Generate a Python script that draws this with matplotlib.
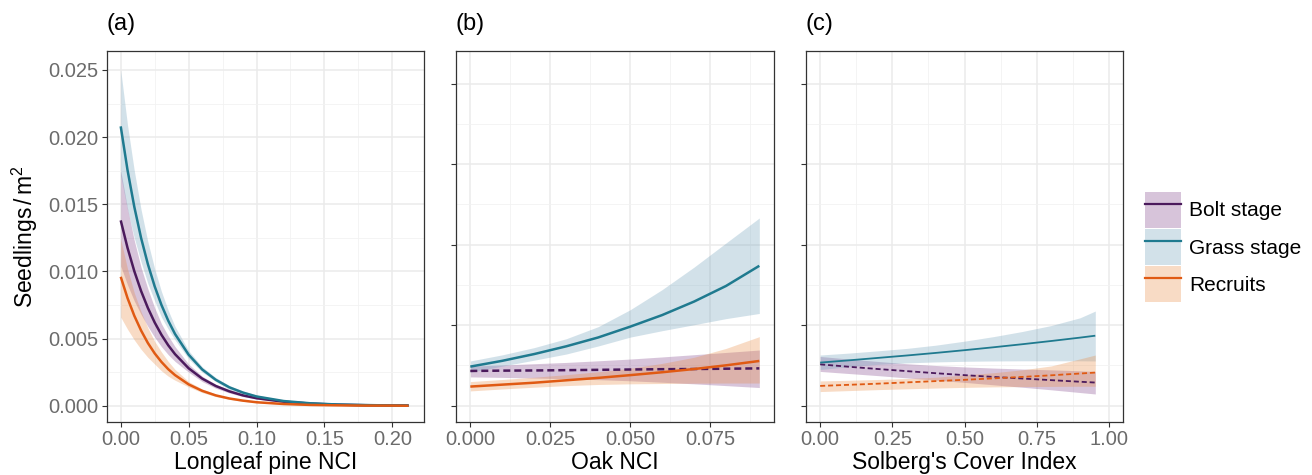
import numpy as np
import matplotlib
matplotlib.use("Agg")
import matplotlib.pyplot as plt
from matplotlib.patches import Patch
from matplotlib.lines import Line2D
from matplotlib.ticker import MultipleLocator, NullFormatter

plt.rcParams['font.family'] = ['Liberation Sans', 'DejaVu Sans']
plt.rcParams['mathtext.fontset'] = 'custom'
plt.rcParams['mathtext.rm'] = 'Liberation Sans'
plt.rcParams['mathtext.it'] = 'Liberation Sans:italic'

# ---- data: panel (a) Longleaf pine NCI ----
nci_pine = [0, 0.005, 0.01, 0.015, 0.02, 0.025, 0.03, 0.035, 0.04, 0.05, 0.06,
            0.07, 0.08, 0.09, 0.10, 0.12, 0.14, 0.16, 0.18, 0.20, 0.212]
pine_grass = [0.0208, 0.01755, 0.01481, 0.01249, 0.01054, 0.00889, 0.0075, 0.00633, 0.00534, 0.0038, 0.0027,
              0.00193, 0.00137, 0.00098, 0.00069, 0.00035, 0.00018, 0.00009, 0.00005, 0.00002, 0.00002]
pine_grass_hi = [0.0250, 0.0209, 0.0175, 0.0146, 0.0122, 0.0102, 0.0085, 0.0071, 0.0059, 0.0041, 0.0029,
                 0.0021, 0.0015, 0.0011, 0.0008, 0.0004, 0.0002, 0.00011, 0.00006, 0.00003, 0.00003]
pine_grass_lo = [0.0171, 0.0146, 0.0125, 0.0107, 0.0091, 0.0078, 0.0066, 0.0057, 0.0049, 0.0035, 0.0025,
                 0.0018, 0.0012, 0.00086, 0.0006, 0.0003, 0.00015, 0.00007, 0.00004, 0.00002, 0.00001]
pine_bolt = [0.0138, 0.01176, 0.01002, 0.00854, 0.00728, 0.0062, 0.00528, 0.0045, 0.00384, 0.00279, 0.00202,
             0.00147, 0.00107, 0.00077, 0.00056, 0.0003, 0.00016, 0.00008, 0.00004, 0.00002, 0.00002]
pine_bolt_hi = [0.0175, 0.0147, 0.0123, 0.0103, 0.0087, 0.0073, 0.0061, 0.0052, 0.0044, 0.0031, 0.0022,
                0.0016, 0.0012, 0.00085, 0.00062, 0.00034, 0.00018, 0.00009, 0.00005, 0.00003, 0.00002]
pine_bolt_lo = [0.0104, 0.0090, 0.0078, 0.0068, 0.0059, 0.0051, 0.0044, 0.0038, 0.0033, 0.0025, 0.0018,
                0.0013, 0.00095, 0.00068, 0.0005, 0.00026, 0.00013, 0.00007, 0.00003, 0.00002, 0.00001]
pine_recr = [0.0096, 0.00802, 0.0067, 0.0056, 0.00467, 0.0039, 0.00326, 0.00272, 0.00228, 0.00159, 0.00111,
             0.00077, 0.00054, 0.00038, 0.00026, 0.00013, 0.00006, 0.00003, 0.00001, 0.00001, 0.0]
pine_recr_hi = [0.0124, 0.0102, 0.0084, 0.0070, 0.0058, 0.0048, 0.0040, 0.0033, 0.0027, 0.0018, 0.00125,
                0.00087, 0.0006, 0.00043, 0.0003, 0.00015, 0.00007, 0.00004, 0.00002, 0.00001, 0.00001]
pine_recr_lo = [0.0066, 0.0057, 0.0049, 0.0042, 0.0036, 0.0031, 0.0026, 0.0022, 0.0019, 0.0014, 0.00098,
                0.00068, 0.00047, 0.00033, 0.00023, 0.00011, 0.00005, 0.00002, 0.00001, 0.0, 0.0]

# ---- data: panel (b) Oak NCI ----
nci_oak = [0, 0.01, 0.02, 0.03, 0.04, 0.05, 0.06, 0.07, 0.08, 0.0904]
oak_grass = [0.00242, 0.00278, 0.0032, 0.00368, 0.00423, 0.0049, 0.00562, 0.00646, 0.00743, 0.00868]
oak_grass_hi = [0.00277, 0.00315, 0.0036, 0.00415, 0.0049, 0.00595, 0.0072, 0.0086, 0.0101, 0.01165]
oak_grass_lo = [0.00208, 0.00245, 0.00282, 0.0032, 0.0037, 0.00425, 0.00465, 0.00502, 0.0054, 0.00572]
oak_bolt = [0.00215, 0.00217, 0.00218, 0.0022, 0.00222, 0.00224, 0.00226, 0.00227, 0.00229, 0.00231]
oak_bolt_hi = [0.00245, 0.00252, 0.0026, 0.00268, 0.00278, 0.00289, 0.00302, 0.00316, 0.0033, 0.00345]
oak_bolt_lo = [0.00178, 0.00175, 0.00171, 0.00167, 0.00161, 0.00154, 0.00145, 0.00135, 0.00124, 0.00112]
oak_recr = [0.00118, 0.0013, 0.00142, 0.00157, 0.00172, 0.00189, 0.00207, 0.00227, 0.0025, 0.00277]
oak_recr_hi = [0.00149, 0.00162, 0.00176, 0.00192, 0.0021, 0.00232, 0.00262, 0.003, 0.00355, 0.00428]
oak_recr_lo = [0.00091, 0.00103, 0.00114, 0.00124, 0.00131, 0.00135, 0.00137, 0.00139, 0.0014, 0.0014]

# ---- data: panel (c) Solberg's cover index ----
cover = [0, 0.1, 0.2, 0.3, 0.4, 0.5, 0.6, 0.7, 0.8, 0.9, 0.953]
cov_grass = [0.00267, 0.00281, 0.00296, 0.00311, 0.00327, 0.00344, 0.00362, 0.00381, 0.00401, 0.00422, 0.00434]
cov_grass_hi = [0.00314, 0.00326, 0.0034, 0.00355, 0.00375, 0.004, 0.00428, 0.0046, 0.00497, 0.00545, 0.00587]
cov_grass_lo = [0.00224, 0.00242, 0.00256, 0.00265, 0.00271, 0.00275, 0.00277, 0.00278, 0.00278, 0.00278, 0.00277]
cov_bolt = [0.00256, 0.00241, 0.00227, 0.00214, 0.00201, 0.00189, 0.00178, 0.00168, 0.00158, 0.00148, 0.00143]
cov_bolt_hi = [0.00305, 0.00289, 0.00274, 0.0026, 0.00249, 0.0024, 0.00233, 0.00227, 0.00222, 0.00216, 0.00212]
cov_bolt_lo = [0.00212, 0.00199, 0.00186, 0.00172, 0.00158, 0.00144, 0.00129, 0.00114, 0.00098, 0.00081, 0.00072]
cov_recr = [0.00122, 0.00129, 0.00136, 0.00144, 0.00152, 0.0016, 0.00169, 0.00178, 0.00188, 0.00199, 0.00205]
cov_recr_hi = [0.00153, 0.00157, 0.00162, 0.00168, 0.00176, 0.0019, 0.00204, 0.00222, 0.00246, 0.0029, 0.00314]
cov_recr_lo = [0.00087, 0.00093, 0.00099, 0.00104, 0.00109, 0.00113, 0.00116, 0.00118, 0.00119, 0.0012, 0.0012]

stages = ['Bolt stage', 'Grass stage', 'Recruits']
line_cols = ['#4b1a5c', '#1f7a8f', '#e05a13']
fill_cols = ['#7d3e87', '#6c9eb9', '#e88a41']
fill_alpha = 0.3

W, H = 1312, 475
fig = plt.figure(figsize=(W / 100, H / 100), dpi=100)


def make_panel(left, right, xlim, ylim, xticks, xfmt, xlabel, tag, series, dashed, lw, show_ylab):
    ax = fig.add_axes([left / W, 1 - 422 / H, (right - left) / W, (422 - 51) / H])
    x = series[0]
    for i, (mean, lo, hi) in enumerate(series[1]):
        ax.fill_between(x, lo, hi, color=fill_cols[i], alpha=fill_alpha, linewidth=0)
    for i, (mean, lo, hi) in enumerate(series[1]):
        if dashed[i]:
            ax.plot(x, mean, color=line_cols[i], lw=lw, dashes=(2.8, 1.6), dash_capstyle='butt')
        else:
            ax.plot(x, mean, color=line_cols[i], lw=lw, solid_capstyle='butt')
    ax.set_xlim(*xlim)
    ax.set_ylim(*ylim)
    ax.set_xticks(xticks)
    ax.set_xticklabels([xfmt.format(v) for v in xticks])
    ax.xaxis.set_minor_locator(MultipleLocator((xticks[1] - xticks[0]) / 2))
    ax.yaxis.set_major_locator(MultipleLocator(0.005))
    ax.yaxis.set_minor_locator(MultipleLocator(0.0025))
    if show_ylab:
        ax.set_yticklabels(['{:.3f}'.format(v) for v in ax.get_yticks()])
    else:
        ax.yaxis.set_major_formatter(NullFormatter())
    ax.grid(which='major', color='#ebebeb', lw=1.1)
    ax.grid(which='minor', color='#f2f2f2', lw=0.6)
    ax.set_axisbelow(True)
    ax.tick_params(which='major', length=3.5, width=0.8, color='#333333',
                   labelsize=14.5, labelcolor='#6b6b6b', pad=2.5)
    ax.tick_params(which='minor', length=0)
    for s in ax.spines.values():
        s.set_color('#333333')
        s.set_linewidth(0.9)
    ax.set_xlabel(xlabel, fontsize=16.5, labelpad=1)
    fig.text(left / W, 1 - 30 / H, tag, fontsize=17, ha='left', va='baseline')
    return ax


ax_a = make_panel(107, 424, (-0.0101, 0.2233), (-0.00121, 0.02641),
                  [0.0, 0.05, 0.10, 0.15, 0.20], '{:.2f}', 'Longleaf pine NCI', '(a)',
                  (nci_pine, [(pine_bolt, pine_bolt_lo, pine_bolt_hi),
                              (pine_grass, pine_grass_lo, pine_grass_hi),
                              (pine_recr, pine_recr_lo, pine_recr_hi)]),
                  [False, False, False], 1.8, True)
ax_a.set_ylabel(r'Seedlings$\,/\,\mathrm{m}^2$', fontsize=16.5, labelpad=6)

ax_b = make_panel(455.7, 773.7, (-0.00457, 0.0949), (-0.00102, 0.02202),
                  [0.0, 0.025, 0.05, 0.075], '{:.3f}', 'Oak NCI', '(b)',
                  (nci_oak, [(oak_bolt, oak_bolt_lo, oak_bolt_hi),
                             (oak_grass, oak_grass_lo, oak_grass_hi),
                             (oak_recr, oak_recr_lo, oak_recr_hi)]),
                  [True, False, False], 1.8, False)

ax_c = make_panel(805.7, 1123.3, (-0.05, 1.05), (-0.00102, 0.02202),
                  [0.0, 0.25, 0.5, 0.75, 1.0], '{:.2f}', "Solberg's Cover Index", '(c)',
                  (cover, [(cov_bolt, cov_bolt_lo, cov_bolt_hi),
                           (cov_grass, cov_grass_lo, cov_grass_hi),
                           (cov_recr, cov_recr_lo, cov_recr_hi)]),
                  [True, False, True], 1.3, False)

# legend keys: filled box with the line across it, stacked without gaps
handles = [(Patch(facecolor=fill_cols[i], alpha=fill_alpha, edgecolor='none'),
            Line2D([], [], color=line_cols[i], lw=1.6)) for i in range(3)]
fig.legend(handles, stages, loc='upper left', bbox_to_anchor=(1145 / W, 1 - 192 / H),
           bbox_transform=fig.transFigure, frameon=False, fontsize=15,
           handlelength=1.73, handleheight=2.285, handletextpad=0.4,
           labelspacing=0.05, borderpad=0, borderaxespad=0)

fig.savefig('out.png', dpi=100)
